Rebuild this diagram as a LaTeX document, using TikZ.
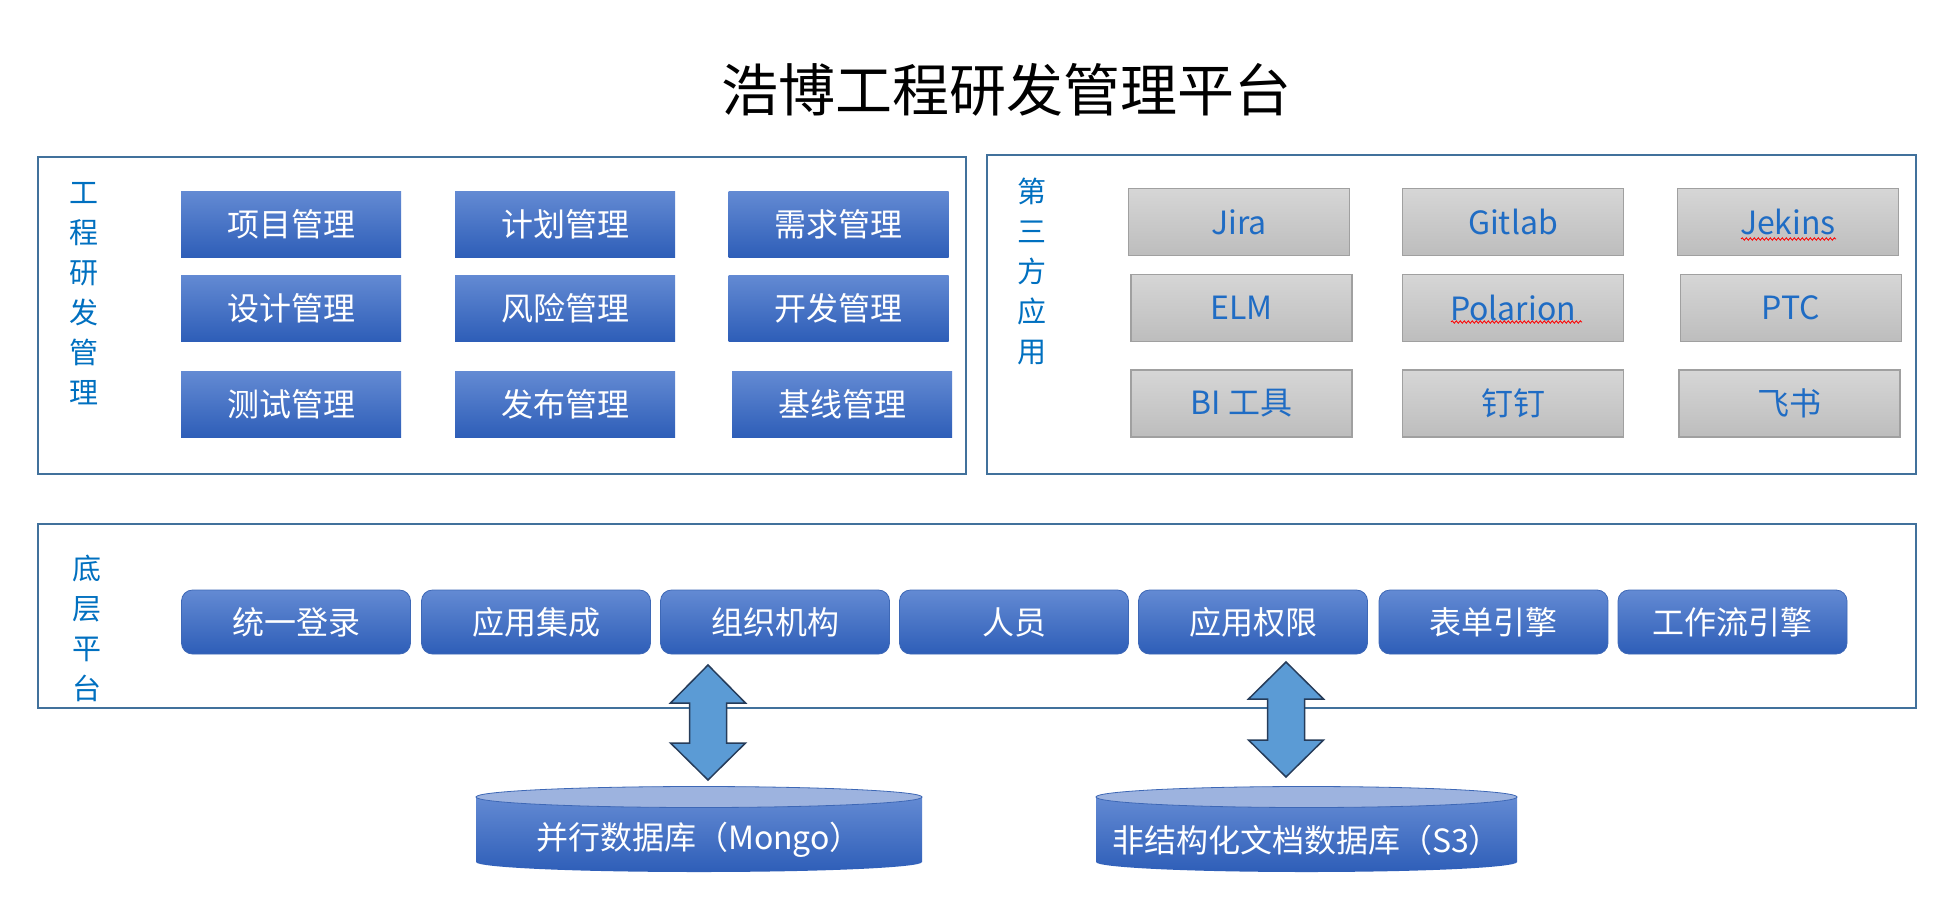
\documentclass[tikz,border=0pt]{standalone}
\usepackage{fontspec}
\newfontfamily\cjk{Noto Sans CJK SC}
\usetikzlibrary{decorations.pathmorphing}
\definecolor{frameblue}{RGB}{65,113,156}
\definecolor{labelblue}{RGB}{0,112,192}
\definecolor{btop}{RGB}{99,138,211}
\definecolor{bbot}{RGB}{46,94,184}
\definecolor{bline}{RGB}{62,104,182}
\definecolor{gtop}{RGB}{214,214,214}
\definecolor{gbot}{RGB}{189,189,189}
\definecolor{gborder}{RGB}{160,160,160}
\definecolor{arrowfill}{RGB}{91,155,213}
\definecolor{arrowborder}{RGB}{38,60,90}
\definecolor{cyltop}{RGB}{157,179,223}
\definecolor{gtext}{RGB}{31,108,196}
\tikzset{
  panelbox/.style={draw=frameblue, line width=2pt, inner sep=0pt, outer sep=0pt, anchor=north west},
  bluebox/.style={top color=btop, bottom color=bbot, draw=none, inner sep=0pt, text=white,
    font=\cjk\fontsize{32}{38}\selectfont, minimum width=220pt, minimum height=66pt},
  graybox/.style={top color=gtop, bottom color=gbot, draw=gborder, line width=1.5pt, inner sep=0pt, text=gtext,
    font=\cjk\fontsize{32}{38}\selectfont, minimum width=221pt, minimum height=67pt},
  basebox/.style={top color=btop, bottom color=bbot, draw=bline, line width=0.8pt, rounded corners=11pt, inner sep=0pt, text=white,
    font=\cjk\fontsize{32}{38}\selectfont, minimum width=229pt, minimum height=64pt},
  vlabel/.style={text=labelblue, font=\cjk\fontsize{29}{40}\selectfont, align=center, inner sep=0pt},
  dblarrow/.style={fill=arrowfill, draw=arrowborder, line width=1.5pt, line join=miter},
  spell/.style={draw=red, line width=0.8pt, decorate, decoration={snake, amplitude=1.2pt, segment length=4pt}},
  cyltext/.style={text=white, font=\cjk\fontsize{32}{38}\selectfont, inner sep=0pt}
}
\begin{document}
\begin{tikzpicture}[x=1pt,y=-1pt]
\useasboundingbox[fill=white] (0,0) rectangle (1942,900);

% title
\node[font=\cjk\fontsize{57}{62}\selectfont, inner sep=0pt] (title) at (1006,90) {浩博工程研发管理平台};

% panels
\node[panelbox, minimum width=928pt, minimum height=317pt] (f1) at (38,157) {};
\node[panelbox, minimum width=929pt, minimum height=319pt] (f2) at (987,155) {};
\node[panelbox, minimum width=1878pt, minimum height=184pt] (f3) at (38,524) {};

% vertical labels
\node[vlabel] (l1) at (84,294) {工\\程\\研\\发\\管\\理};
\node[vlabel] (l2) at (1032,271) {第\\三\\方\\应\\用};
\node[vlabel] (l3) at (87,628) {底\\层\\平\\台};

% engineering management boxes
\node[bluebox] (p11) at (291,224.5) {项目管理};
\node[bluebox] (p12) at (565,224.5) {计划管理};
\node[bluebox] (p13) at (838.5,224.5) {需求管理};
\node[bluebox] (p21) at (291,308) {设计管理};
\node[bluebox] (p22) at (565,308) {风险管理};
\node[bluebox] (p23) at (838.5,308) {开发管理};
\node[bluebox] (p31) at (291,404.5) {测试管理};
\node[bluebox] (p32) at (565,404.5) {发布管理};
\node[bluebox] (p33) at (842,404.5) {基线管理};

% third party boxes
\node[graybox] (g11) at (1239,222) {Jira};
\node[graybox] (g12) at (1513,222) {Gitlab};
\node[graybox] (g13) at (1788,222) {Jekins};
\node[graybox] (g21) at (1241.5,308) {ELM};
\node[graybox] (g22) at (1513,308) {Polarion};
\node[graybox] (g23) at (1791,308) {PTC};
\node[graybox] (g31) at (1241.5,403.5) {BI 工具};
\node[graybox] (g32) at (1513,403.5) {钉钉};
\node[graybox] (g33) at (1789.5,403.5) {飞书};

% spell-check underlines
\coordinate (s1a) at (1741,239);
\coordinate (s1b) at (1836,239);
\coordinate (s2a) at (1451,322);
\coordinate (s2b) at (1582,322);
\draw[spell] (s1a) -- (s1b);
\draw[spell] (s2a) -- (s2b);

% base platform boxes
\node[basebox] (b1) at (296,622) {统一登录};
\node[basebox] (b2) at (536,622) {应用集成};
\node[basebox] (b3) at (775,622) {组织机构};
\node[basebox] (b4) at (1014,622) {人员};
\node[basebox] (b5) at (1253,622) {应用权限};
\node[basebox] (b6) at (1493.5,622) {表单引擎};
\node[basebox] (b7) at (1732.5,622) {工作流引擎};

% cylinders
\shade[top color=btop, bottom color=bbot] (476,797) -- (476,862) arc[start angle=180, end angle=0, x radius=223, y radius=10] -- (922,797) -- cycle;
\fill[cyltop] (699,797) ellipse[x radius=223, y radius=10.5];
\draw[bline, line width=0.8pt] (699,797) ellipse[x radius=223, y radius=10.5];
\node[cyltext] (db1) at (699,840) {并行数据库（Mongo）};

\shade[top color=btop, bottom color=bbot] (1096,797) -- (1096,862) arc[start angle=180, end angle=0, x radius=210.5, y radius=10] -- (1517,797) -- cycle;
\fill[cyltop] (1306.5,797) ellipse[x radius=210.5, y radius=10.5];
\draw[bline, line width=0.8pt] (1306.5,797) ellipse[x radius=210.5, y radius=10.5];
\node[cyltext] (db2) at (1306.5,840) {非结构化文档数据库（S3）};

% double arrows
\draw[dblarrow] (708,665) -- (745.5,703) -- (726.5,703) -- (726.5,743) -- (745.5,743) -- (708,780)
  -- (670.5,743) -- (689.5,743) -- (689.5,703) -- (670.5,703) -- cycle;
\draw[dblarrow] (1286,662) -- (1323.5,699) -- (1304.5,699) -- (1304.5,740) -- (1323.5,740) -- (1286,777)
  -- (1248.5,740) -- (1267.5,740) -- (1267.5,699) -- (1248.5,699) -- cycle;
\end{tikzpicture}
\end{document}
